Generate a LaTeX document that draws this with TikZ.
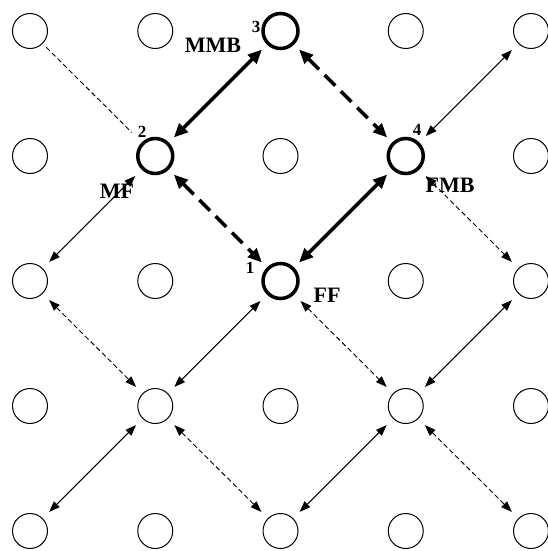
\documentclass[tikz,border=0pt]{standalone}
\usepackage{fontspec}
\setmainfont{Liberation Serif}
\usetikzlibrary{arrows.meta}
\begin{document}
\begin{tikzpicture}[x=1pt,y=-1pt,
  site/.style={circle,draw,line width=1pt,minimum size=35pt,inner sep=0pt},
  hub/.style={site,line width=3.5pt},
  link/.style={line width=1.1pt,{Triangle[length=11pt,width=8pt]}-{Triangle[length=11pt,width=8pt]},shorten <=9pt,shorten >=9pt},
  dlink/.style={link,line width=0.9pt,dash pattern=on 5pt off 3pt},
  trail/.style={line width=0.9pt,dash pattern=on 5pt off 3pt,shorten <=5pt,shorten >=14pt},
  main/.style={line width=3.5pt,{Triangle[length=14pt,width=12pt]}-{Triangle[length=14pt,width=12pt]},shorten <=7pt,shorten >=7pt},
  dmain/.style={main,dash pattern=on 15pt off 8pt},
  tag/.style={font=\bfseries\fontsize{22}{22}\selectfont,inner sep=0pt},
  num/.style={font=\bfseries\fontsize{17}{17}\selectfont,inner sep=0pt}]
\useasboundingbox (0,0) rectangle (547,551);

% 5x5 lattice of sites; the four active sites are drawn bold
\foreach \c in {0,...,4}{
  \foreach \r in {0,...,4}{
    \def\kind{site}
    \ifnum\c\r=11 \def\kind{hub}\fi
    \ifnum\c\r=20 \def\kind{hub}\fi
    \ifnum\c\r=31 \def\kind{hub}\fi
    \ifnum\c\r=22 \def\kind{hub}\fi
    \node[\kind] (n\c\r) at ({30+125.25*\c},{31+125*\r}) {};
  }
}

% main cycle 1-4-3-2
\draw[main]  (n11) -- (n20);
\draw[dmain] (n20) -- (n31);
\draw[dmain] (n11) -- (n22);
\draw[main]  (n22) -- (n31);

% surrounding links
\draw[trail] (n00) -- (n11);
\draw[link]  (n31) -- (n40);
\draw[link]  (n11) -- (n02);
\draw[dlink] (n31) -- (n42);
\draw[dlink] (n02) -- (n13);
\draw[link]  (n13) -- (n22);
\draw[dlink] (n22) -- (n33);
\draw[link]  (n33) -- (n42);
\draw[link]  (n13) -- (n04);
\draw[dlink] (n13) -- (n24);
\draw[link]  (n24) -- (n33);
\draw[dlink] (n33) -- (n44);

% labels
\node[num] (l3) at (256,27)  {3};
\node[tag] (t3) at (213,45)  {MMB};
\node[num] (l2) at (142,132) {2};
\node[tag] (t2) at (117,191) {MF};
\node[num] (l4) at (417,130) {4};
\node[tag] (t4) at (450,185) {FMB};
\node[num] (l1) at (250,268) {1};
\node[tag] (t1) at (327,295) {FF};
\end{tikzpicture}
\end{document}
